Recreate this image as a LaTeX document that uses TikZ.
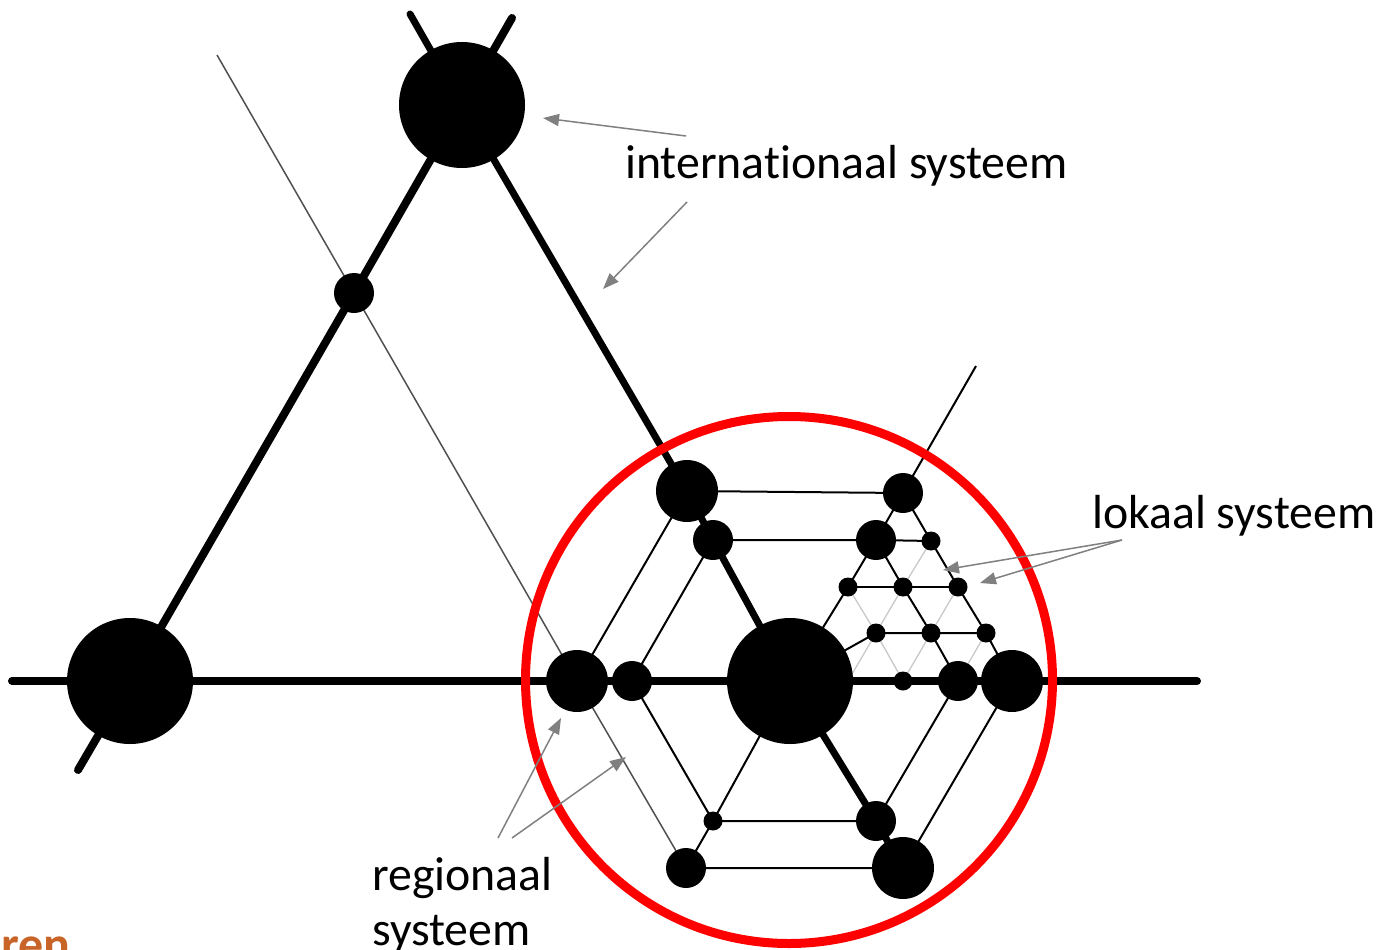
\documentclass[tikz,border=0pt]{standalone}
\usepackage{fontspec}
\setmainfont{Carlito}[Ligatures=NoCommon]
\usetikzlibrary{arrows.meta}
\pgfdeclarelayer{bg}
\pgfsetlayers{bg,main}
\definecolor{ann}{RGB}{128,128,128}
\definecolor{lgray}{RGB}{200,200,200}
\definecolor{dgray}{RGB}{80,80,80}
\definecolor{orng}{RGB}{200,100,40}
\begin{document}
\begin{tikzpicture}[x=1pt,y=-1pt,
  dot/.style={circle,fill=black,draw=none,inner sep=0pt,outer sep=0pt,minimum size=#1},
  trunk/.style={line width=8pt,line cap=round},
  thinline/.style={line width=2pt,black},
  faintline/.style={line width=1.3pt,lgray},
  longline/.style={line width=1.5pt,dgray},
  annarrow/.style={line width=1.5pt,ann,-{Triangle[length=16pt,width=12pt]}},
  lbl/.style={anchor=base west,inner sep=0pt,font=\fontsize{47.8pt}{55pt}\selectfont}]
\useasboundingbox (0,0) rectangle (1381,950);

% nodes
\node[dot=126] (A) at (130,681) {};
\node[dot=126] (B) at (462,105) {};
\node[dot=126] (C) at (790,681) {};
\node[dot=40] (m1) at (354,293) {};
\node[dot=62] (R1) at (687,491) {};
\node[dot=62] (R2) at (577,681) {};
\node[dot=62] (R3) at (1012,681) {};
\node[dot=62] (R4) at (903,868) {};
\node[dot=40] (n1) at (713,540) {};
\node[dot=40] (n2) at (632,681) {};
\node[dot=40] (n3) at (903,493) {};
\node[dot=40] (n4) at (876,540) {};
\node[dot=40] (n5) at (958,681) {};
\node[dot=40] (n6) at (876,821) {};
\node[dot=40] (n7) at (686,868) {};
\node[dot=19] (s1) at (931,541) {};
\node[dot=19] (s2) at (848,587) {};
\node[dot=19] (s3) at (903,587) {};
\node[dot=19] (s4) at (958,587) {};
\node[dot=19] (s5) at (876,633) {};
\node[dot=19] (s6) at (931,633) {};
\node[dot=19] (s7) at (986,633) {};
\node[dot=19] (s8) at (903,681) {};
\node[dot=19] (s9) at (713,821) {};

% free ends
\coordinate (e1) at (12,681);
\coordinate (e2) at (1197,681);
\coordinate (t1) at (410,14);
\coordinate (t2) at (512,18);
\coordinate (b1) at (78,770);
\coordinate (l1) at (217,55);
\coordinate (u1) at (976,366);
\coordinate (h1) at (848,681);

\begin{pgfonlayer}{bg}
\draw[trunk] (e1) -- (e2);
\draw[trunk] (b1) -- (A.center) -- (m1.center) -- (B.center) -- (t2);
\draw[trunk,line width=7pt] (t1) -- (B.center) -- (R1.center) -- (n1.center) -- (C.center) -- (n6.center) -- (R4.center);
\draw[longline] (l1) -- (m1.center) -- (R2.center) -- (n7.center);
% regional system
\draw[thinline] (R2.center) -- (R1.center) -- (n3.center);
\draw[thinline] (n1.center) -- (n4.center) -- (s1.center);
\draw[thinline] (n2.center) -- (n1.center);
\draw[thinline] (n2.center) -- (s9.center) -- (n6.center) -- (n5.center);
\draw[thinline] (s9.center) -- (C.center);
\draw[thinline] (n7.center) -- (s9.center);
\draw[thinline] (n7.center) -- (R4.center) -- (R3.center);
% local system
\draw[thinline] (C.center) -- (s2.center) -- (n4.center) -- (n3.center) -- (u1);
\draw[thinline] (n3.center) -- (s1.center) -- (s4.center) -- (s7.center) -- (R3.center);
\draw[thinline] (n4.center) -- (s3.center) -- (s6.center) -- (n5.center);
\draw[thinline] (s2.center) -- (s3.center) -- (s4.center);
\draw[thinline] (C.center) -- (s5.center) -- (s6.center) -- (s7.center);
\draw[faintline] (s1.center) -- (s3.center);
\draw[faintline] (s2.center) -- (s5.center) -- (s3.center);
\draw[faintline] (s4.center) -- (s6.center);
\draw[faintline] (h1) -- (s5.center) -- (s8.center) -- (s6.center);
\draw[faintline] (s7.center) -- (n5.center);
\end{pgfonlayer}

% red ring
\node[circle,draw=red,line width=9pt,inner sep=0pt,outer sep=0pt,minimum size=527pt] (ring) at (789,680) {};

% labels
\node[lbl] (intl) at (625,178) {internationaal systeem};
\node[lbl] (lok) at (1092,528) {lokaal systeem};
\node[lbl] (reg1) at (372,890) {regionaal};
\node[lbl] (reg2) at (372,945) {systeem};
\node[anchor=base west,inner sep=0pt,text=orng,font=\bfseries\fontsize{50pt}{56pt}\selectfont] (cut) at (1,961) {ren};

% annotation arrows
\coordinate (ia1) at (686,136);
\coordinate (ia1t) at (543,118);
\coordinate (ia2) at (687,202);
\coordinate (ia2t) at (603,289);
\coordinate (la) at (1122,540);
\coordinate (la1t) at (943,570);
\coordinate (la2t) at (980,583);
\coordinate (ra1) at (498,838);
\coordinate (ra1t) at (561,718);
\coordinate (ra2) at (512,838);
\coordinate (ra2t) at (626,757);
\draw[annarrow] (ia1) -- (ia1t);
\draw[annarrow] (ia2) -- (ia2t);
\draw[annarrow] (la) -- (la1t);
\draw[annarrow] (la) -- (la2t);
\draw[annarrow] (ra1) -- (ra1t);
\draw[annarrow] (ra2) -- (ra2t);
\end{tikzpicture}
\end{document}
